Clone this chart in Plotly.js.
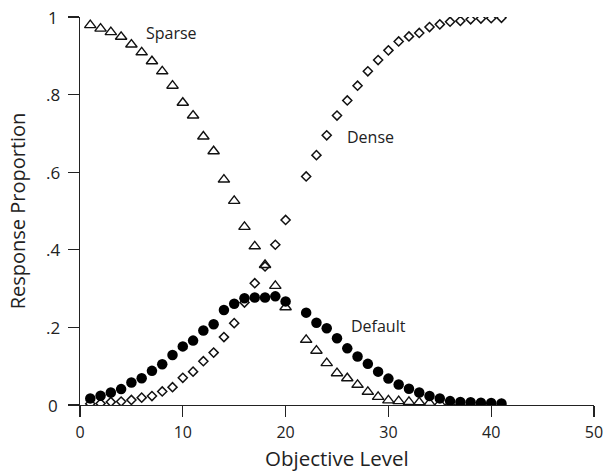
<!DOCTYPE html>
<html>
<head>
<meta charset="utf-8">
<script src="https://cdn.plot.ly/plotly-3.0.1.min.js"></script>
<style>html,body{margin:0;padding:0;background:#fff;}#chart{width:605px;height:471px;}</style>
</head>
<body>
<div id="chart"></div>
<script>
// Objective levels (level 21 not shown in the reference)
const levels = [1,2,3,4,5,6,7,8,9,10,11,12,13,14,15,16,17,18,19,20,22,23,24,25,26,27,28,29,30,31,32,33,34,35,36,37,38,39,40,41];

const sparse = [0.979,0.970,0.961,0.949,0.929,0.909,0.886,0.860,0.823,0.779,0.746,0.692,0.654,0.581,0.526,0.459,0.409,0.361,0.307,0.252,
                0.168,0.140,0.108,0.082,0.069,0.052,0.034,0.021,0.012,0.010,0.008,0.007,0.005,0.004,0.003,0.003,0.002,0.002,0.001,0.001];

const dense = [0.003,0.004,0.008,0.009,0.013,0.019,0.023,0.035,0.046,0.070,0.086,0.113,0.135,0.175,0.211,0.264,0.314,0.357,0.413,0.477,
               0.589,0.644,0.695,0.746,0.785,0.823,0.860,0.889,0.914,0.937,0.950,0.959,0.974,0.981,0.988,0.990,0.994,0.996,0.997,0.998];

const defaultResp = [0.017,0.024,0.032,0.041,0.058,0.069,0.088,0.105,0.129,0.151,0.166,0.192,0.208,0.245,0.261,0.275,0.277,0.277,0.280,0.267,
                     0.238,0.212,0.198,0.172,0.146,0.125,0.106,0.086,0.068,0.053,0.042,0.032,0.023,0.017,0.010,0.008,0.007,0.006,0.005,0.004];

const yTickVals = [0,0.2,0.4,0.6,0.8,1];
const yTickText = ['0','.2','.4','.6','.8','1'];
const xTickVals = [0,10,20,30,40,50];

const seriesLabels = ['Sparse','Dense','Default'];
const labelX = [8.9, 28.3, 29.0];
const labelY = [0.96, 0.692, 0.204];

const xTitle = 'Objective Level';
const yTitle = 'Response Proportion';

const FONT = 'Open Sans, Noto Sans, sans-serif';

const traces = [
  {x: levels, y: dense, mode: 'markers', type: 'scatter', name: 'Dense',
   marker: {symbol: 'diamond-open', size: 7, color: '#111', line: {width: 1.5, color: '#111'}}},
  {x: levels, y: sparse, mode: 'markers', type: 'scatter', name: 'Sparse',
   marker: {symbol: 'triangle-up-open', size: 10, color: '#111', line: {width: 1.4, color: '#111'}}},
  {x: levels, y: defaultResp, mode: 'markers', type: 'scatter', name: 'Default',
   marker: {symbol: 'circle', size: 10.5, color: '#000', line: {width: 0}}}
];

const annotations = seriesLabels.map((t, i) => ({
  x: labelX[i], y: labelY[i], xref: 'x', yref: 'y', text: t, showarrow: false,
  font: {family: FONT, size: 16, color: '#222'}
}));

// y tick labels, centred in a column left of the ticks (as in the reference)
yTickVals.forEach((v, i) => annotations.push({
  x: -0.0525, y: v, xref: 'paper', yref: 'y', text: yTickText[i], showarrow: false,
  xanchor: 'center', yanchor: 'middle', font: {family: FONT, size: 17, color: '#222'}
}));

// x-axis title placed just under the tick labels
annotations.push({
  x: 0.5, y: -0.1355, xref: 'paper', yref: 'paper', text: xTitle, showarrow: false,
  xanchor: 'center', yanchor: 'middle', font: {family: FONT, size: 20.5, color: '#222'}
});

const layout = {
  width: 605, height: 471,
  margin: {l: 80, r: 11, t: 17, b: 66},
  paper_bgcolor: '#fff', plot_bgcolor: '#fff',
  showlegend: false,
  font: {family: FONT, color: '#222'},
  xaxis: {
    range: [0, 50], tickvals: xTickVals, ticks: 'outside', ticklen: 11, tickwidth: 1.2, tickcolor: '#222',
    showline: true, linecolor: '#222', linewidth: 1.2, showgrid: false, zeroline: false,
    tickfont: {family: FONT, size: 16, color: '#222'}, ticklabelstandoff: 2
  },
  yaxis: {
    range: [0, 1], tickvals: yTickVals, ticks: 'outside', ticklen: 11, tickwidth: 1.2, tickcolor: '#222',
    showline: true, linecolor: '#222', linewidth: 1.2, showgrid: false, zeroline: false,
    showticklabels: false,
    title: {text: yTitle, font: {family: FONT, size: 20, color: '#222'}, standoff: 36}
  },
  annotations: annotations
};

Plotly.newPlot('chart', traces, layout, {displayModeBar: false, staticPlot: true});
</script>
</body>
</html>
